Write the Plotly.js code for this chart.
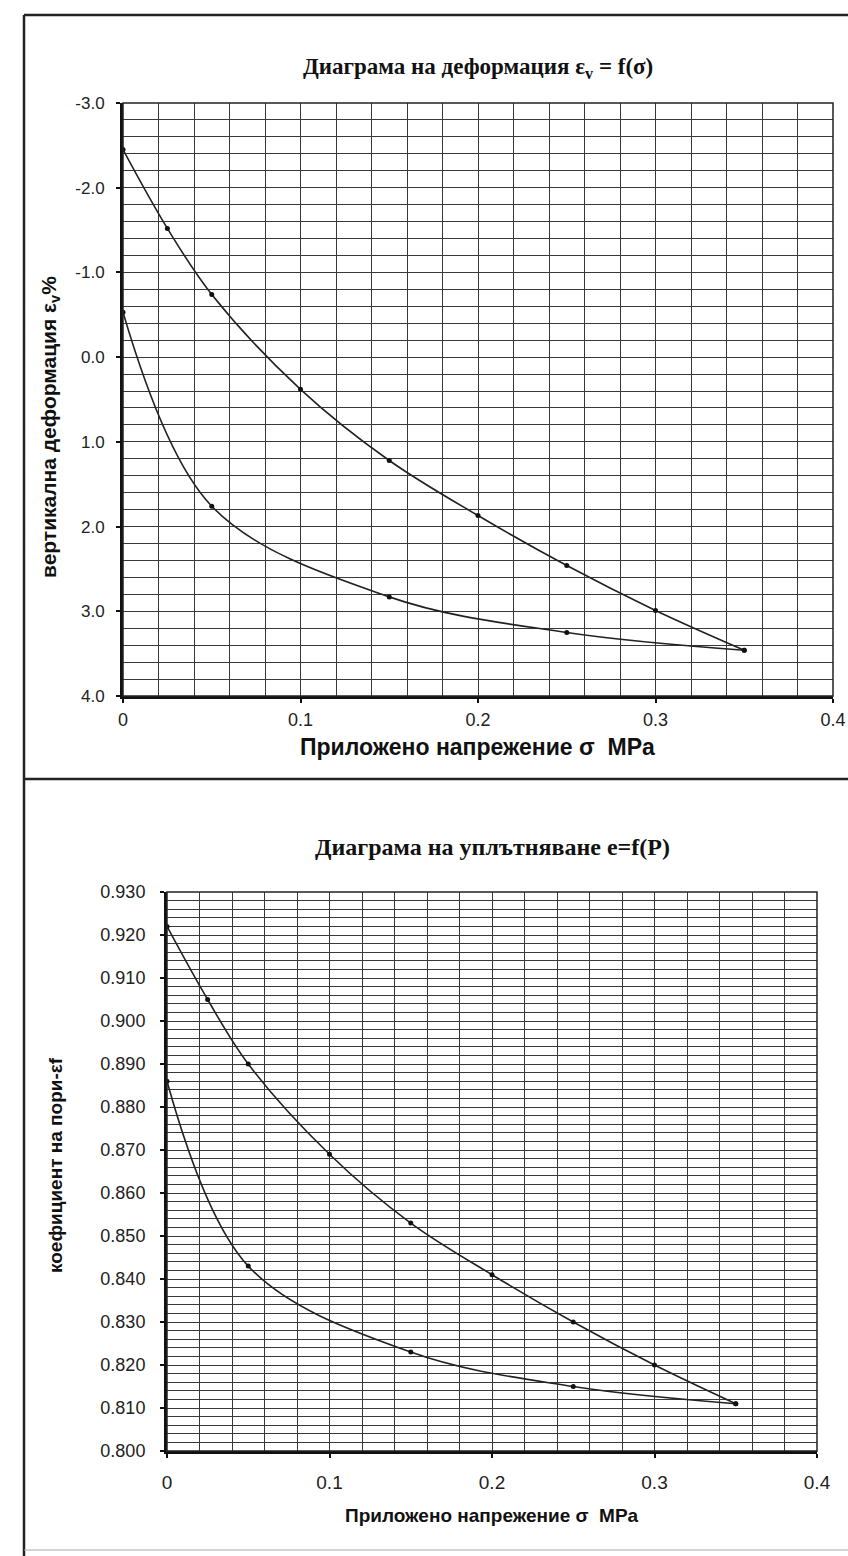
<!DOCTYPE html>
<html>
<head>
<meta charset="utf-8">
<script src="https://cdn.plot.ly/plotly-3.0.1.min.js"></script>
<style>
html,body{margin:0;padding:0;background:#fff;}
#chart{width:848px;height:1556px;}
</style>
</head>
<body>
<div id="chart"></div>
<script>
// ---- data ----
const sigmaLoad = [0, 0.025, 0.05, 0.1, 0.15, 0.2, 0.25, 0.3, 0.35];
const strainLoad = [-2.45, -1.52, -0.74, 0.38, 1.22, 1.87, 2.46, 2.99, 3.46];
const sigmaUnload = [0.35, 0.25, 0.15, 0.05, 0];
const strainUnload = [3.46, 3.25, 2.83, 1.76, -0.53];
const voidLoad = [0.922, 0.905, 0.890, 0.869, 0.853, 0.841, 0.830, 0.820, 0.811];
const voidUnload = [0.811, 0.815, 0.823, 0.843, 0.886];

// tick labels
const strainTicks = [-3, -2, -1, 0, 1, 2, 3, 4];
const strainTickText = ['-3.0', '-2.0', '-1.0', '0.0', '1.0', '2.0', '3.0', '4.0'];

const titleTop = "Диаграма на деформация ε<sub>v</sub> = f(σ)";
const titleBottom = "Диаграма на уплътняване e=f(P)";
const yTitleTop = "вертикална деформация ε<sub>v</sub>%";
const yTitleBottom = "коефициент на пори-εf";
const xTitle = "Приложено напрежение σ  MPa";

// ---- layout helpers (pixel -> paper) ----
const W = 848, H = 1556;
const px = v => v / W;
const py = v => 1 - v / H;

const lineStyle = {color: '#222', width: 1.6, shape: 'spline', smoothing: 1};
const markerStyle = {color: '#111', size: 5, symbol: 'circle'};

const traces = [
  {x: sigmaLoad, y: strainLoad, xaxis: 'x', yaxis: 'y', mode: 'lines+markers', line: lineStyle, marker: markerStyle},
  {x: sigmaUnload, y: strainUnload, xaxis: 'x', yaxis: 'y', mode: 'lines+markers', line: lineStyle, marker: markerStyle},
  {x: sigmaLoad, y: voidLoad, xaxis: 'x2', yaxis: 'y2', mode: 'lines+markers', line: lineStyle, marker: markerStyle},
  {x: sigmaUnload, y: voidUnload, xaxis: 'x2', yaxis: 'y2', mode: 'lines+markers', line: lineStyle, marker: markerStyle}
];

const SANS = 'Liberation Sans, Arial, sans-serif';
const SERIF = 'Liberation Serif, Times New Roman, serif';
const gridC = '#383838';

function baseAxis(size) {
  return {
    showgrid: true, gridcolor: gridC, gridwidth: 1,
    showline: true, linecolor: '#111', linewidth: 3,
    ticks: 'outside', ticklen: 4, tickwidth: 2, tickcolor: '#111',
    tickfont: {family: SANS, size: size, color: '#222'},
    ticklabeloverflow: 'allow',
    zeroline: false, fixedrange: true
  };
}

function xAxis(domain, anchor, size, standoff) {
  return Object.assign(baseAxis(size), {
    domain: domain, anchor: anchor, range: [0, 0.4], dtick: 0.1, tick0: 0,
    ticklabelstandoff: standoff,
    minor: {dtick: 0.02, showgrid: true, gridcolor: gridC, gridwidth: 1, ticks: ''}
  });
}

const layout = {
  width: W, height: H,
  margin: {l: 0, r: 0, t: 0, b: 0},
  paper_bgcolor: '#fff', plot_bgcolor: '#fff',
  showlegend: false,
  xaxis: xAxis([px(123), px(833)], 'y', 18, 1),
  yaxis: Object.assign(baseAxis(17), {
    domain: [py(696), py(103)], anchor: 'x', range: [4, -3],
    tickmode: 'array', tickvals: strainTicks, ticktext: strainTickText,
    ticklabelstandoff: 8,
    minor: {dtick: 0.2, tick0: -3, showgrid: true, gridcolor: gridC, gridwidth: 1, ticks: ''}
  }),
  xaxis2: xAxis([px(167), px(817)], 'y2', 19, 8),
  yaxis2: Object.assign(baseAxis(18), {
    domain: [py(1451), py(892)], anchor: 'x2', range: [0.8, 0.93], dtick: 0.01, tick0: 0.8,
    tickformat: '.3f', ticklabelstandoff: 11,
    minor: {dtick: 0.002, showgrid: true, gridcolor: gridC, gridwidth: 1, ticks: ''}
  }),
  shapes: [
    // plot boxes
    {type: 'rect', xref: 'x domain', yref: 'y domain', x0: 0, x1: 1, y0: 0, y1: 1, line: {color: '#222', width: 1.5}},
    {type: 'rect', xref: 'x2 domain', yref: 'y2 domain', x0: 0, x1: 1, y0: 0, y1: 1, line: {color: '#222', width: 1.5}},
    // outer frame
    {type: 'line', xref: 'paper', yref: 'paper', x0: px(24), x1: px(24), y0: py(15), y1: py(1556), line: {color: '#222', width: 2.5}},
    {type: 'line', xref: 'paper', yref: 'paper', x0: px(24), x1: px(848), y0: py(15), y1: py(15), line: {color: '#222', width: 2.5}},
    {type: 'line', xref: 'paper', yref: 'paper', x0: px(24), x1: px(848), y0: py(779), y1: py(779), line: {color: '#222', width: 2.5}},
    {type: 'line', xref: 'paper', yref: 'paper', x0: px(24), x1: px(848), y0: py(1550), y1: py(1550), line: {color: '#aaa', width: 1}}
  ],
  annotations: [
    {xref: 'paper', yref: 'paper', x: px(478), y: py(68), xanchor: 'center', yanchor: 'middle', text: titleTop, showarrow: false,
     font: {family: SERIF, size: 23, color: '#111', weight: 'bold'}},
    {xref: 'paper', yref: 'paper', x: px(492), y: py(847), xanchor: 'center', yanchor: 'middle', text: titleBottom, showarrow: false,
     font: {family: SERIF, size: 24, color: '#111', weight: 'bold'}},
    {xref: 'paper', yref: 'paper', x: px(50), y: py(427), xanchor: 'center', yanchor: 'middle', text: yTitleTop, showarrow: false, textangle: -90,
     font: {family: SANS, size: 21, color: '#111', weight: 'bold'}},
    {xref: 'paper', yref: 'paper', x: px(478), y: py(747), xanchor: 'center', yanchor: 'middle', text: xTitle, showarrow: false,
     font: {family: SANS, size: 23, color: '#111', weight: 'bold'}},
    {xref: 'paper', yref: 'paper', x: px(55), y: py(1165), xanchor: 'center', yanchor: 'middle', text: yTitleBottom, showarrow: false, textangle: -90,
     font: {family: SANS, size: 19, color: '#111', weight: 'bold'}},
    {xref: 'paper', yref: 'paper', x: px(492), y: py(1515), xanchor: 'center', yanchor: 'middle', text: xTitle, showarrow: false,
     font: {family: SANS, size: 19, color: '#111', weight: 'bold'}}
  ]
};

Plotly.newPlot('chart', traces, layout, {staticPlot: true, displayModeBar: false});
</script>
</body>
</html>
